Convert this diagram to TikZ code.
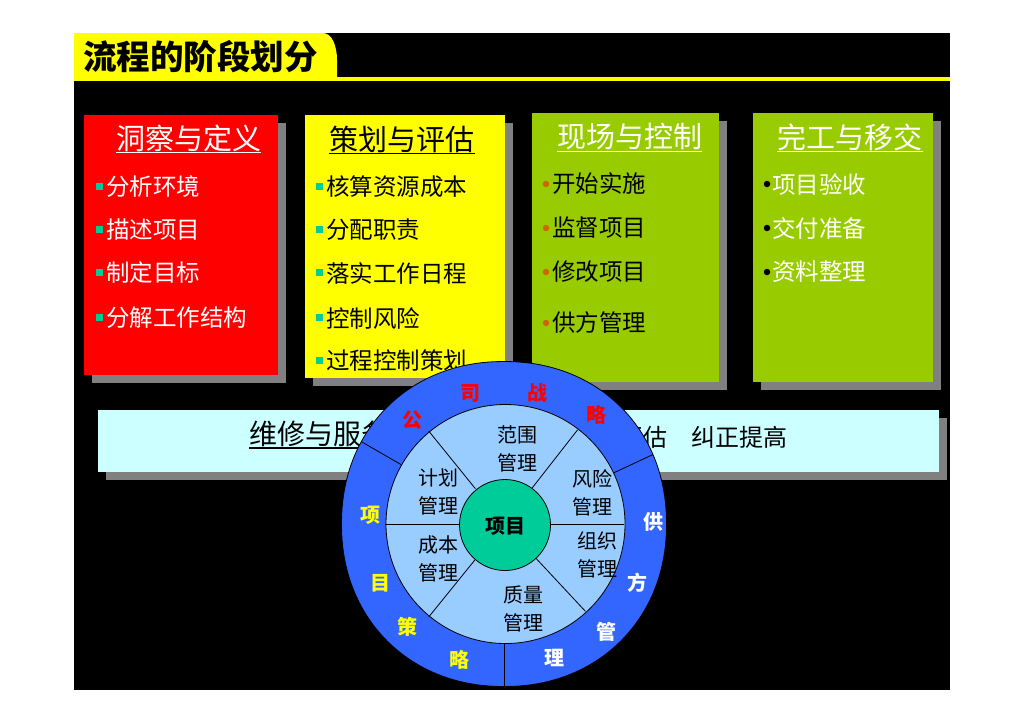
\documentclass[tikz,border=0pt]{standalone}
\usepackage{fontspec}
\newfontfamily\cjk{Noto Sans CJK SC}
\usetikzlibrary{calc}
\definecolor{bred}{HTML}{FF0000}
\definecolor{byel}{HTML}{FFFF00}
\definecolor{bgrn}{HTML}{99CC00}
\definecolor{bcyan}{HTML}{CCFFFF}
\definecolor{shad}{HTML}{808080}
\definecolor{teal}{HTML}{00CC99}
\definecolor{dotor}{HTML}{CC6600}
\definecolor{ringblue}{HTML}{3366FF}
\definecolor{midblue}{HTML}{99CCFF}
\definecolor{coregrn}{HTML}{00CC99}
\tikzset{
  ttl/.style={inner sep=0pt, font=\cjk\fontsize{29}{32}\selectfont},
  itm/.style={inner sep=0pt, anchor=west, font=\cjk\fontsize{23.5}{26}\selectfont},
  sq/.style={fill=teal, minimum size=7pt, inner sep=0pt},
  dotb/.style={circle, minimum size=6.5pt, inner sep=0pt},
  ring/.style={inner sep=0pt, font=\cjk\bfseries\fontsize{20}{22}\selectfont},
  seg/.style={inner sep=0pt, align=center, font=\cjk\fontsize{20}{28}\selectfont},
  ul/.style={line width=1.5pt},
}
\def\outerpath{plot[domain=1:361, samples=181, variable=\t] ({162.5*cos(\t)*exp(-0.05*ln(abs(cos(\t))))}, {162.5*sin(\t)*exp(-0.05*ln(abs(sin(\t))))}) -- cycle}
\begin{document}
\begin{tikzpicture}[x=1pt,y=-1pt]
\useasboundingbox (0,0) rectangle (1024,724);
\fill[white] (0,0) rectangle (1024,724);
% black stage
\fill[black] (74,33) rectangle (950,690);
% title tab
\fill[byel] (74,33) -- (323,33) .. controls (332,33) and (337,46) .. (337,60) -- (337,80.5) -- (74,80.5) -- cycle;
\fill[byel] (74,77) rectangle (950,80.5);
\node[inner sep=0pt, anchor=west, font=\cjk\bfseries\fontsize{33.5}{35}\selectfont] (title) at (83,57) {流程的阶段划分};

% box 1 red
\fill[shad] (92,123) rectangle (286,383);
\fill[bred] (84,115) rectangle (278,375);
\node[ttl, text=white] (t1) at (188.5,138) {洞察与定义};
\draw[ul, white] ([yshift=-1pt]t1.south west) -- ([yshift=-1pt]t1.south east);
\foreach \y/\t [count=\i] in {187/分析环境, 230/描述项目, 273/制定目标, 318/分解工作结构}{
  \node[sq] (s1\i) at (99.5,\y-1) {};
  \node[itm, text=white] (a1\i) at (106,\y) {\t};
}

% box 2 yellow
\fill[shad] (313,123) rectangle (513,386);
\fill[byel] (305,115) rectangle (505,378);
\node[ttl, text=black] (t2) at (402,139) {策划与评估};
\draw[ul, black] ([yshift=-1pt]t2.south west) -- ([yshift=-1pt]t2.south east);
\foreach \y/\t [count=\i] in {187/核算资源成本, 230/分配职责, 273/落实工作日程, 318/控制风险, 361/过程控制策划}{
  \node[sq] (s2\i) at (319.5,\y-1) {};
  \node[itm, text=black] (a2\i) at (326,\y) {\t};
}

% box 3 green
\fill[shad] (540,121) rectangle (727,390);
\fill[bgrn] (532,113) rectangle (719,382);
\node[ttl, text=white] (t3) at (629.5,137) {现场与控制};
\draw[ul, white] ([yshift=-1pt]t3.south west) -- ([yshift=-1pt]t3.south east);
\foreach \y/\t [count=\i] in {184/开始实施, 228/监督项目, 272/修改项目, 323/供方管理}{
  \node[dotb, fill=dotor] (d3\i) at (546,\y) {};
  \node[itm, text=black] (a3\i) at (552,\y) {\t};
}

% box 4 green
\fill[shad] (761,121) rectangle (941,390);
\fill[bgrn] (753,113) rectangle (933,382);
\node[ttl, text=white] (t4) at (850,137) {完工与移交};
\draw[ul, white] ([yshift=-1pt]t4.south west) -- ([yshift=-1pt]t4.south east);
\foreach \y/\t [count=\i] in {184/项目验收, 228/交付准备, 272/资料整理}{
  \node[dotb, fill=black] (d4\i) at (767,\y) {};
  \node[itm, text=white] (a4\i) at (772,\y) {\t};
}

% bottom bar
\fill[shad] (106,418) rectangle (947,480);
\fill[bcyan] (98,410) rectangle (939,472);
\node[inner sep=0pt, anchor=west, font=\cjk\fontsize{28}{30}\selectfont] (b1) at (249,434) {维修与服务};
\draw[ul, black] ([yshift=-1pt]b1.south west) -- ([yshift=-1pt]b1.south east);
\node[inner sep=0pt, anchor=west, font=\cjk\fontsize{24}{26}\selectfont] (b2) at (619,437) {评估　纠正提高};

% wheel
\coordinate (c) at (504,524);
\begin{scope}[shift={(c)}, y=1pt]
  \fill[ringblue] \outerpath;
  \begin{scope}
    \clip \outerpath;
    \foreach \a in {150,25,270}
      \draw[line width=0.8pt] (\a:119) -- (\a:175);
  \end{scope}
  \draw[line width=0.8pt] \outerpath;
  \fill[midblue, draw=black, line width=0.8pt] (1.5,0) circle (119.5);
  \foreach \a in {0,52,129,180,231,313}
    \draw[line width=0.8pt] (\a:45.5) -- (\a:119.5);
  \node[circle, fill=coregrn, draw=black, line width=0.8pt, minimum size=91pt, inner sep=0pt] (core) at (1,-1) {};
\end{scope}
\node[ring, text=black] (coret) at (505,526) {项目};

\node[seg] (g1) at (517,449) {范围\\管理};
\node[seg] (g2) at (438,492) {计划\\管理};
\node[seg] (g3) at (592,493) {风险\\管理};
\node[seg] (g4) at (438,559) {成本\\管理};
\node[seg] (g5) at (597,555) {组织\\管理};
\node[seg] (g6) at (523,608.5) {质量\\管理};

\node[ring, text=bred] (r1) at (412,420) {公};
\node[ring, text=bred] (r2) at (470,393) {司};
\node[ring, text=bred] (r3) at (537,393) {战};
\node[ring, text=bred] (r4) at (596,415) {略};
\node[ring, text=byel] (r5) at (370,515) {项};
\node[ring, text=byel] (r6) at (380,583) {目};
\node[ring, text=byel] (r7) at (407,627) {策};
\node[ring, text=byel] (r8) at (459,660) {略};
\node[ring, text=white] (r9) at (653,522) {供};
\node[ring, text=white] (r10) at (637,583) {方};
\node[ring, text=white] (r11) at (606,632) {管};
\node[ring, text=white] (r12) at (554,658) {理};
\end{tikzpicture}
\end{document}
